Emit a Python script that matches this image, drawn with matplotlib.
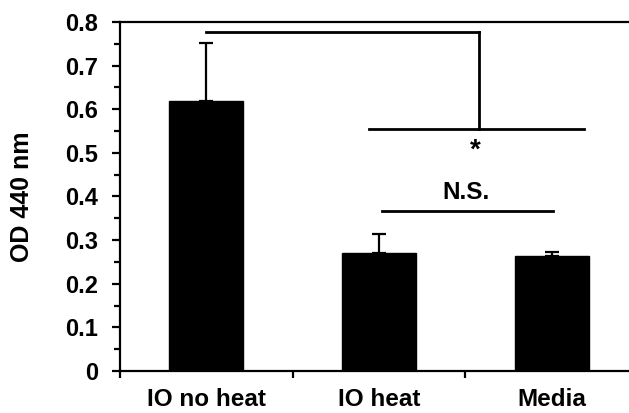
import matplotlib
matplotlib.use("Agg")
import matplotlib.pyplot as plt
from matplotlib.ticker import MultipleLocator

categories = ["IO no heat", "IO heat", "Media"]
values = [0.619, 0.270, 0.264]
errors = [0.134, 0.043, 0.009]
yticks = [0, 0.1, 0.2, 0.3, 0.4, 0.5, 0.6, 0.7, 0.8]
ytick_labels = ["0", "0.1", "0.2", "0.3", "0.4", "0.5", "0.6", "0.7", "0.8"]

plt.rcParams['font.family'] = ['Liberation Sans', 'DejaVu Sans']
plt.rcParams['font.weight'] = 'bold'

W, H = 629, 413
fig = plt.figure(figsize=(W/100, H/100), dpi=100)
ax = fig.add_axes([120/W, (H-371)/H, (638-120)/W, (371-22)/H])

x = list(range(len(categories)))
ax.bar(x, values, width=0.43, color='black', edgecolor='black', zorder=2)
ax.errorbar(x, values, yerr=[[0]*len(errors), errors], fmt='none',
            ecolor='black', elinewidth=1.6, capsize=5, capthick=1.6, zorder=3)

ax.set_xlim(-0.5, 2.5)
ax.set_ylim(0, 0.8)
ax.set_yticks(yticks)
ax.set_yticklabels(ytick_labels)
ax.yaxis.set_minor_locator(MultipleLocator(0.05))
ax.set_xticks([-0.5, 0.5, 1.5, 2.5])
ax.set_xticklabels([])
ax.set_xticks(x, minor=True)
ax.set_xticklabels(categories, minor=True)
ax.tick_params(axis='x', which='minor', length=0, pad=12, labelsize=17.5)
ax.tick_params(axis='x', which='major', direction='out', length=5, width=1.6)
ax.tick_params(axis='y', which='major', direction='out', length=5.5, width=1.6, labelsize=17, pad=10)
ax.tick_params(axis='y', which='minor', direction='out', length=4, width=1.6)

for s in ['left', 'bottom', 'top']:
    ax.spines[s].set_linewidth(1.6)
ax.spines['right'].set_visible(False)

ax.set_ylabel("OD 440 nm", fontsize=18, fontweight='bold')
ax.yaxis.set_label_coords((34-120)/518, 0.5)

lw = 2.0
# significance bracket
ax.plot([0.0, 1.58], [0.777, 0.777], color='black', lw=lw, clip_on=False)
ax.plot([1.58, 1.58], [0.777, 0.555], color='black', lw=lw, clip_on=False)
ax.plot([0.94, 2.19], [0.555, 0.555], color='black', lw=lw, clip_on=False)
ax.text(1.555, 0.505, "*", ha='center', va='center', fontsize=20, fontweight='bold')
ax.plot([1.02, 2.01], [0.367, 0.367], color='black', lw=lw, clip_on=False)
ax.text(1.505, 0.410, "N.S.", ha='center', va='center', fontsize=17.5, fontweight='bold')

fig.savefig("out.png", dpi=100)
